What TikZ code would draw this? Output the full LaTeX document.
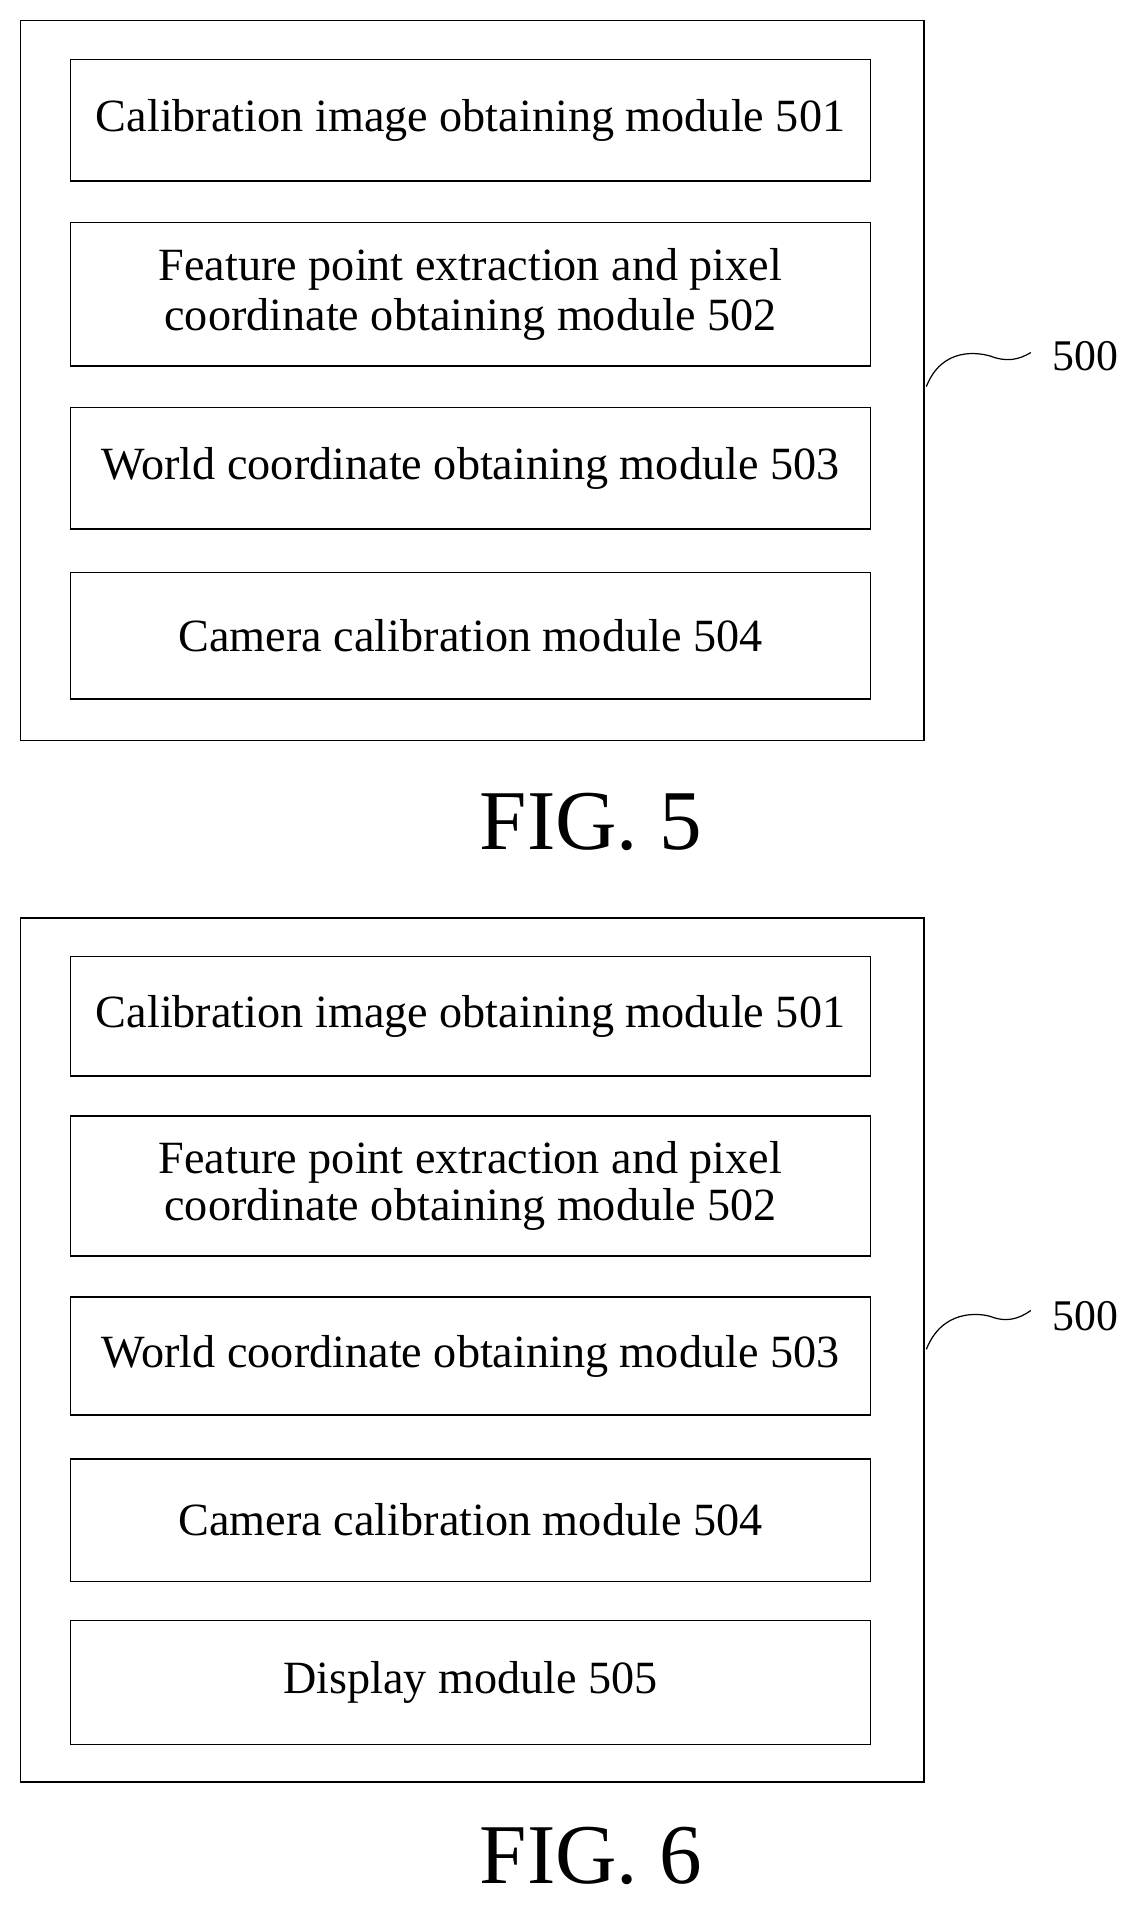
\documentclass[tikz,border=0pt]{standalone}
\usepackage{fontspec}
\setmainfont{Liberation Serif}
\begin{document}
\begin{tikzpicture}[x=1pt,y=-1pt,
  outer/.style={draw,line width=1.2pt},
  mod/.style={draw,line width=1.2pt,align=center,font=\fontsize{38}{44}\selectfont},
  lbl/.style={font=\fontsize{36}{40}\selectfont},
  fig/.style={font=\fontsize{70}{74}\selectfont}]
\useasboundingbox (0,0) rectangle (940,1572);
% FIG 5
\draw[outer] (17,17) rectangle (760,609);
\draw[mod] (58,49) rectangle (716,149) node[midway,draw=none] (a1) {Calibration image obtaining module 501};
\draw[mod] (58,183) rectangle (716,301) node[midway,draw=none] (a2) {Feature point extraction and pixel\\[-3pt]coordinate obtaining module 502};
\draw[mod] (58,335) rectangle (716,435) node[midway,draw=none] (a3) {World coordinate obtaining module 503};
\draw[mod] (58,471) rectangle (716,575) node[midway,draw=none] (a4) {Camera calibration module 504};
\node[lbl] (l5) at (893,293) {500};
\coordinate (s5) at (762,318);
\draw[line width=1pt] (s5) .. controls (775,285) and (805,290) .. (815,293) .. controls (828,298) and (838,296) .. (848,290);
\node[fig] (f5) at (486,676) {FIG. 5};
% FIG 6
\draw[outer] (17,755) rectangle (760,1466);
\draw[mod] (58,787) rectangle (716,885) node[midway,draw=none] (b1) {Calibration image obtaining module 501};
\draw[mod] (58,918) rectangle (716,1033) node[midway,draw=none] (b2) {Feature point extraction and pixel\\[-6pt]coordinate obtaining module 502};
\draw[mod] (58,1067) rectangle (716,1164) node[midway,draw=none] (b3) {World coordinate obtaining module 503};
\draw[mod] (58,1200) rectangle (716,1301) node[midway,draw=none] (b4) {Camera calibration module 504};
\draw[mod] (58,1333) rectangle (716,1435) node[midway,draw=none] (b5) {Display module 505};
\node[lbl] (l6) at (893,1083) {500};
\coordinate (s6) at (762,1110);
\draw[line width=1pt] (s6) .. controls (775,1077) and (805,1080) .. (815,1083) .. controls (828,1088) and (838,1085) .. (848,1078);
\node[fig] (f6) at (486,1527) {FIG. 6};
\end{tikzpicture}
\end{document}
